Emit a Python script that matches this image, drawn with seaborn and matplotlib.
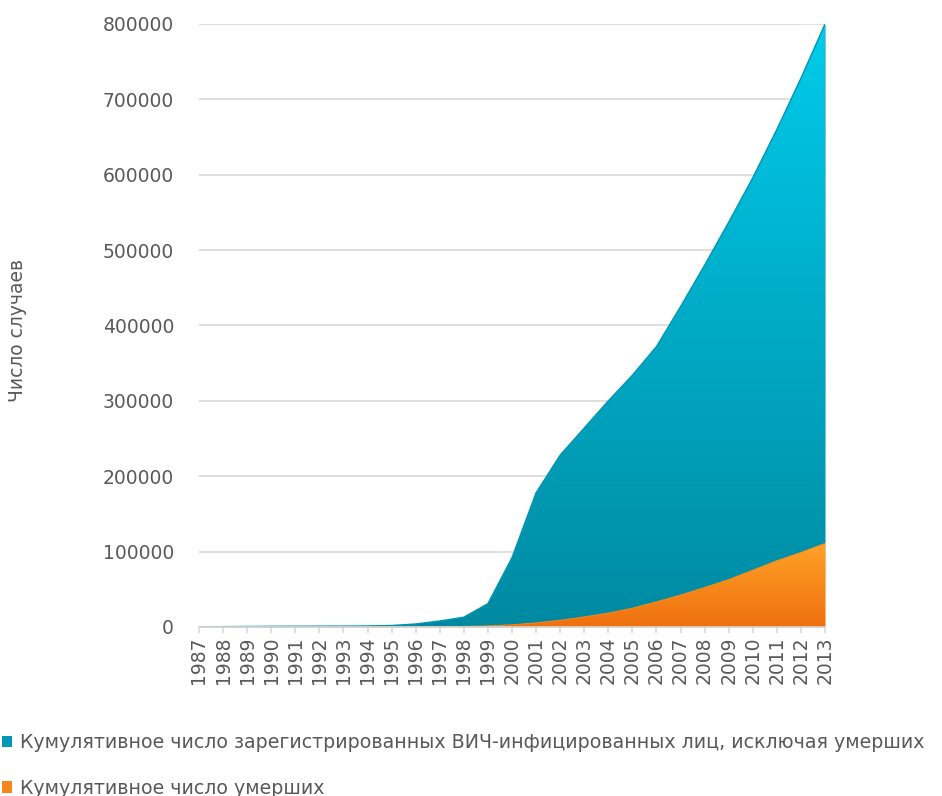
import numpy as np
import pandas as pd
import matplotlib
matplotlib.use("Agg")
import matplotlib.pyplot as plt
import seaborn as sns
from matplotlib.patches import Patch
from matplotlib.colors import LinearSegmentedColormap

# ---- data ----
years = list(range(1987, 2014))
total_registered = [300, 500, 700, 900, 1000, 1100, 1200, 1400, 2000, 4000, 8000,
                    13000, 31000, 92000, 178000, 228000, 264000, 300000, 334000,
                    372000, 425000, 480000, 537000, 596000, 660000, 728000, 800000]
deaths = [10, 20, 40, 60, 80, 100, 130, 160, 200, 300, 500,
          800, 1500, 3000, 5500, 9000, 13500, 18500, 25000,
          33500, 42500, 52500, 63000, 75500, 88000, 99000, 111000]
living = [t - d for t, d in zip(total_registered, deaths)]

label_living = "Кумулятивное число зарегистрированных ВИЧ-инфицированных лиц, исключая умерших"
label_deaths = "Кумулятивное число умерших"
y_label = "Число случаев"
y_ticks = [0, 100000, 200000, 300000, 400000, 500000, 600000, 700000, 800000]

df = pd.DataFrame({"year": years, "deaths": deaths, "living": living})
df["top"] = df["deaths"] + df["living"]

sns.set_theme(style="white")
plt.rcParams["font.family"] = ["DejaVu Sans"]
text_col = "#595959"
grid_col = "#d9d9d9"

fig = plt.figure(figsize=(9.42, 7.96), dpi=100)
ax = fig.add_axes([199 / 942, 1 - 627 / 796, (825 - 199) / 942, (627 - 24) / 796])

ax.set_xlim(1987, 2013)
ax.set_ylim(0, 800000)

def gradient_fill(lower, upper, c_top, c_bot, vmax):
    poly = ax.fill_between(df["year"], lower, upper, color=c_bot, linewidth=0, zorder=2)
    cmap = LinearSegmentedColormap.from_list("g", [c_bot, c_top])
    grad = np.linspace(0, 1, 256).reshape(-1, 1)
    im = ax.imshow(grad, cmap=cmap, aspect="auto", origin="lower",
                   extent=[1987, 2013, 0, vmax], zorder=3, interpolation="bilinear")
    im.set_clip_path(poly.get_paths()[0], transform=ax.transData)
    return poly

gradient_fill(df["deaths"], df["top"], "#00cbea", "#008aa2", 800000)
gradient_fill(0, df["deaths"], "#ffa326", "#ef6f10", 111000)

# thin edges via seaborn
sns.lineplot(data=df, x="year", y="top", ax=ax, color="#0096b2", linewidth=1.0, zorder=4)
sns.lineplot(data=df, x="year", y="deaths", ax=ax, color="#f98a1e", linewidth=0.6, zorder=4)
ax.set_xlim(1987, 2013)
ax.set_ylim(0, 800000)

ax.set_yticks(y_ticks)
ax.set_yticklabels([str(v) for v in y_ticks])
ax.set_xticks(years)
ax.set_xticklabels([str(y) for y in years], rotation=90)
ax.grid(axis="y", color=grid_col, linewidth=1.2, zorder=0)
ax.set_axisbelow(True)
for s in ["left", "right", "top"]:
    ax.spines[s].set_visible(False)
ax.spines["bottom"].set_color(grid_col)
ax.spines["bottom"].set_linewidth(1.2)
ax.spines["bottom"].set_zorder(5)
ax.tick_params(axis="y", length=0, pad=18, labelsize=13.5, labelcolor=text_col)
ax.tick_params(axis="x", bottom=True, direction="out", length=4.5, width=1.2,
               color=grid_col, pad=2, labelsize=13.5, labelcolor=text_col)
ax.set_xlabel("")
ax.set_ylabel(y_label, fontsize=13.5, color=text_col)
ax.yaxis.set_label_coords(-0.274, 0.4925)

handles = [Patch(facecolor="#0099b5", edgecolor="none"),
           Patch(facecolor="#f7861a", edgecolor="none")]
fig.legend(handles, [label_living, label_deaths], loc="upper left",
           bbox_to_anchor=(2 / 942, 1 - 733 / 796), frameon=False,
           fontsize=13.7, labelcolor=text_col, handlelength=0.55, handleheight=0.55,
           handletextpad=0.4, labelspacing=1.4, borderpad=0, borderaxespad=0)

fig.savefig("out.png", dpi=100)
